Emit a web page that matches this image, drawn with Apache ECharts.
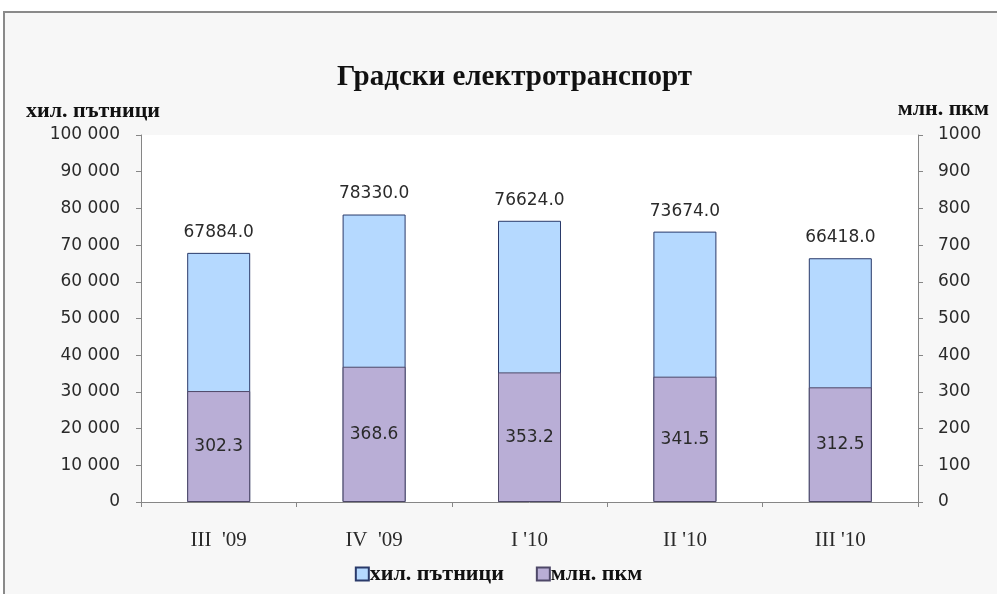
<!DOCTYPE html>
<html><head><meta charset="utf-8">
<script src="https://cdn.jsdelivr.net/npm/echarts@6/dist/echarts.min.js"></script>
<style>html,body{margin:0;padding:0;background:#fff}#c{width:997px;height:594px}</style>
</head><body><div id="c"></div>
<script>
const categories = ["III  '09", "IV  '09", "I '10", "II '10", "III '10"];
const passengers = [67884.0, 78330.0, 76624.0, 73674.0, 66418.0];
const pkm = [302.3, 368.6, 353.2, 341.5, 312.5];
const leftTicks = { min: 0, max: 100000, interval: 10000 };
const rightTicks = { min: 0, max: 1000, interval: 100 };
const nameLeft = "хил. пътници";
const nameRight = "млн. пкм";
const titleText = "Градски електротранспорт";

const chart = echarts.init(document.getElementById('c'));
const serif = '"Liberation Serif","DejaVu Serif",serif';
const sans = '"DejaVu Sans",Verdana,sans-serif';
const axisCol = '#868686';
const txt = '#2a2a2a';
chart.setOption({
  backgroundColor: '#ffffff',
  animation: false,
  graphic: [{
    type: 'rect', z: -10, silent: true,
    shape: { x: 4, y: 12, width: 1010, height: 600 },
    style: { fill: '#f7f7f7', stroke: '#8a8a8a', lineWidth: 2 }
  }],
  title: [
    { text: titleText, left: 332, top: 58, textStyle: { fontFamily: serif, fontWeight: 'bold', fontSize: 29, color: '#111' } },
    { text: nameLeft, left: 21, top: 95, textStyle: { fontFamily: serif, fontWeight: 'bold', fontSize: 22, color: '#111' } },
    { text: nameRight, right: 3, top: 93, textStyle: { fontFamily: serif, fontWeight: 'bold', fontSize: 22, color: '#111' } }
  ],
  legend: {
    bottom: 4, left: 'center', itemWidth: 13, itemHeight: 13, itemGap: 32,
    icon: 'rect',
    textStyle: { fontFamily: serif, fontWeight: 'bold', fontSize: 22, color: '#111', padding: [0, 0, 0, -4] },
    data: [nameLeft, nameRight]
  },
  grid: { left: 141, right: 79, top: 135, bottom: 92, show: true, backgroundColor: '#ffffff', borderWidth: 0 },
  xAxis: {
    type: 'category', data: categories,
    axisLine: { lineStyle: { color: axisCol } },
    axisTick: { show: true, length: 5, lineStyle: { color: axisCol } },
    axisLabel: { margin: 28, fontFamily: serif, fontSize: 21, color: txt }
  },
  yAxis: [{
    type: 'value', position: 'left', ...leftTicks,
    axisLine: { show: true, lineStyle: { color: axisCol } },
    axisTick: { show: true, length: 5, lineStyle: { color: axisCol } },
    splitLine: { show: false },
    axisLabel: { margin: 21, fontFamily: sans, fontSize: 17, color: txt,
      formatter: v => String(v).replace(/\B(?=(\d{3})+(?!\d))/g, ' ') }
  }, {
    type: 'value', position: 'right', ...rightTicks,
    axisLine: { show: true, lineStyle: { color: axisCol } },
    axisTick: { show: true, length: 5, lineStyle: { color: axisCol } },
    splitLine: { show: false },
    axisLabel: { margin: 20, fontFamily: sans, fontSize: 17, color: txt, formatter: v => String(v) }
  }],
  series: [{
    name: nameLeft, type: 'bar', yAxisIndex: 0, data: passengers, barWidth: 63,
    itemStyle: { color: '#b5d9ff', borderColor: '#2a3a6a', borderWidth: 1 },
    label: { show: true, position: 'top', distance: 12, fontFamily: sans, fontSize: 17, color: txt,
      formatter: p => p.value.toFixed(1) }
  }, {
    name: nameRight, type: 'bar', yAxisIndex: 1, data: pkm, barWidth: 63, barGap: '-100%',
    itemStyle: { color: '#b9aed6', borderColor: '#4e4868', borderWidth: 1 },
    label: { show: true, position: 'inside', fontFamily: sans, fontSize: 17, color: txt,
      formatter: p => p.value.toFixed(1) }
  }]
});
</script></body></html>
